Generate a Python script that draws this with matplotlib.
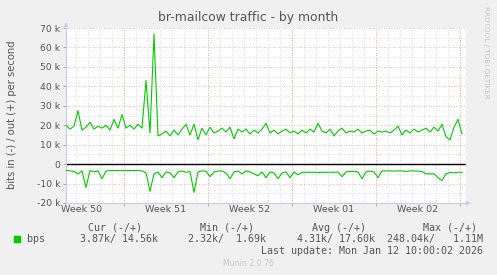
import numpy as np
import matplotlib.pyplot as plt

# valores (k bits/s), un punto cada 8 horas
out_k = [20, 18, 19.5, 27.5, 17.5, 19, 21.5, 18, 19.5, 18.5,
         20, 17.5, 23, 18.5, 25.5, 18.5, 20, 18, 20.5, 18.5,
         43, 16, 67, 14.5, 15.5, 17, 14.5, 17.5, 15, 18,
         20.5, 15, 20.5, 12.5, 18.5, 15, 19, 16, 17, 18.5,
         16.5, 19, 13, 18, 16.5, 18, 15.5, 17.5, 16, 18,
         21, 16, 17.5, 15.5, 17, 18, 16, 17, 15.5, 17.5,
         16, 18, 16.5, 21, 17, 16, 18, 14.5, 17, 18.5,
         16, 17, 16.5, 18, 16, 17, 17.5, 15.5, 17, 16.5,
         17, 16, 17.5, 19.5, 15, 17.5, 16, 18, 16.5, 17.5,
         18.5, 16.5, 19, 17, 20.5, 14, 12.5, 19, 23, 15.5]
in_k = [3.2, 3.5, 3.8, 5, 3.5, 12, 3.3, 4, 3.5, 7.5,
        3.6, 3.3, 3.3, 3.3, 3.3, 3.3, 3.3, 3.3, 3.3, 3.5,
        4.5, 14, 5, 4, 7, 4, 4.5, 7, 4, 3.5,
        4.2, 3.8, 14.5, 4, 3.5, 3.6, 6.5, 4, 3.6, 3.5,
        4.5, 7.5, 4, 3.6, 5, 3.5, 4, 5, 6, 4,
        7, 4, 4.5, 7.5, 4.5, 4, 7, 4, 5.5, 4.2,
        4.2, 4.2, 4.2, 4.3, 4.2, 4.2, 4.2, 4.2, 4, 6.5,
        4, 3.8, 3.8, 4, 7.5, 4, 3.6, 4, 7, 3.5,
        3.5, 3.5, 3.6, 3.5, 3.5, 3.8, 3.5, 3.5, 3.6, 3.8,
        5, 5, 5, 7, 8.5, 5, 4.2, 4.5, 4.2, 4.2]
week_labels = ['Week 50', 'Week 51', 'Week 52', 'Week 01', 'Week 02']
y_ticks = [-20, -10, 0, 10, 20, 30, 40, 50, 60, 70]
headers = ['Cur (-/+)', 'Min (-/+)', 'Avg (-/+)', 'Max (-/+)']
values = ['3.87k/ 14.56k', '2.32k/  1.69k', '4.31k/ 17.60k', '248.04k/   1.11M']

W, H = 497, 275
txt = '#555555'
green = '#00CC00'
axis_col = '#C8C8F0'

fig = plt.figure(figsize=(W / 100, H / 100), dpi=100, facecolor='#F0F0F0')
ax = fig.add_axes([66 / W, (H - 203) / H, 400 / W, 175 / H])
ax.set_facecolor('white')

days = np.arange(len(out_k)) / 3.0
span = 400 / 12.0
ax.set_xlim(0, span)
ax.set_ylim(-20, 70)

# rejilla
for d in np.arange(0.833, span, 1.0):
    ax.axvline(d, color='#D0D0D0', lw=0.6, ls=(0, (1, 2)), zorder=0)
for v in range(-15, 70, 10):
    ax.axhline(v, color='#D0D0D0', lw=0.6, ls=(0, (1, 2)), zorder=0)
major_x = np.arange(4.833, span, 7.0)
for d in major_x:
    ax.axvline(d, color='#F0A0A0', lw=0.6, ls=(0, (1, 2)), zorder=0)
for v in y_ticks:
    ax.axhline(v, color='#F0A0A0', lw=0.6, ls=(0, (1, 2)), zorder=0)
ax.axhline(0, color='black', lw=1.0, zorder=2)

ax.plot(days, out_k, color=green, lw=0.8, zorder=3)
ax.plot(days, -np.array(in_k), color=green, lw=0.8, zorder=3)

for s in ['top', 'right']:
    ax.spines[s].set_visible(False)
for s in ['left', 'bottom']:
    ax.spines[s].set_color(axis_col)
    ax.spines[s].set_linewidth(0.8)

ax.set_yticks(y_ticks)
ax.set_yticklabels([f'{v} k' if v != 0 else '0' for v in y_ticks],
                   fontsize=6.7, color=txt)
ax.tick_params(axis='y', length=2, width=0.6, color='#999999', pad=2)
ax.set_xticks(major_x)
ax.set_xticklabels([])
ax.tick_params(axis='x', length=2, width=0.6, color='#F08080')
for i, lab in enumerate(week_labels):
    ax.text(1.333 + 7 * i, -23.5, lab, ha='center', va='center',
            fontsize=6.8, color=txt)

# flechas de los ejes
ax.annotate('', xy=(1.012, 0), xytext=(1.0, 0), xycoords='axes fraction',
            arrowprops=dict(arrowstyle='-|>', color=axis_col, lw=0.8,
                            mutation_scale=6))
ax.annotate('', xy=(0, 1.05), xytext=(0, 1.0), xycoords='axes fraction',
            arrowprops=dict(arrowstyle='-|>', color=axis_col, lw=0.8,
                            mutation_scale=6))

# textos de la figura
def fx(px):
    return px / W

def fy(py):
    return 1 - py / H

fig.text(fx(248), fy(18), 'br-mailcow traffic - by month', ha='center',
         va='center', fontsize=8.9, color=txt)
fig.text(fx(12), fy(115), 'bits in (-) / out (+) per second', rotation=90,
         ha='center', va='center', fontsize=7.2, color=txt)
fig.text(fx(486), fy(52), 'RRDTOOL / TOBI OETIKER', rotation=270,
         ha='center', va='center', fontsize=5.2, color='#C8C8C8')

mono = 'DejaVu Sans Mono'
head_end = [142, 254, 366, 477]
val_end = [158, 266, 375, 483]
for h, x in zip(headers, head_end):
    fig.text(fx(x), fy(228), h, ha='right', va='center', fontsize=7.2,
             family=mono, color=txt)
for v, x in zip(values, val_end):
    fig.text(fx(x), fy(239), v, ha='right', va='center', fontsize=7.2,
             family=mono, color=txt)
fig.patches.append(plt.Rectangle((fx(14), fy(242)), 6 / W, 6 / H,
                                 transform=fig.transFigure, color=green))
fig.text(fx(27), fy(239), 'bps', ha='left', va='center', fontsize=7.2,
         family=mono, color=txt)
fig.text(fx(483), fy(251), 'Last update: Mon Jan 12 10:00:02 2026',
         ha='right', va='center', fontsize=7.2, family=mono, color=txt)
fig.text(fx(248), fy(263), 'Munin 2.0.76', ha='center', va='center',
         fontsize=5.6, color='#C8C8C8')

fig.savefig('out.png', dpi=100, facecolor=fig.get_facecolor())
